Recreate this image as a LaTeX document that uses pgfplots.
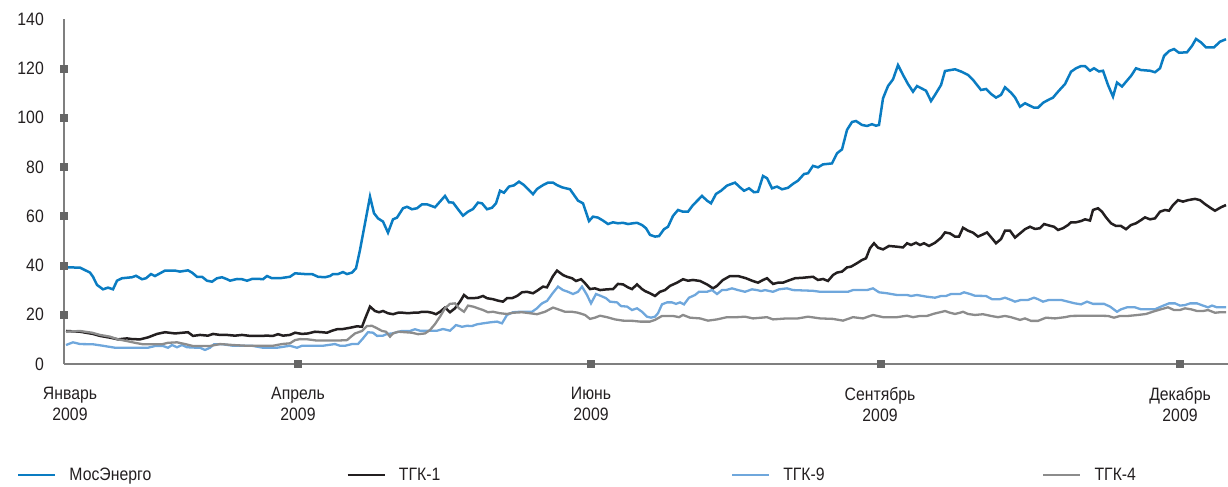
\documentclass[border=0pt]{standalone}
\usepackage{fontspec}
\setmainfont{Liberation Sans}[FakeStretch=0.88]
\usepackage{pgfplots}
\pgfplotsset{compat=1.18}

\definecolor{mos}{HTML}{0A7CC2}
\definecolor{tgkone}{HTML}{231F20}
\definecolor{tgknine}{HTML}{6FA7DC}
\definecolor{tgkfour}{HTML}{8C8C8C}
\definecolor{axisgray}{HTML}{7F7F7F}
\definecolor{tickbox}{HTML}{666666}
\definecolor{labelc}{HTML}{231F20}
\newcommand{\lbl}{\fontsize{18}{21}\selectfont}

\begin{document}
\begin{tikzpicture}
\begin{axis}[
  name=ax,
  scale only axis,
  width=1164bp, height=345bp,
  xmin=64, xmax=1228, ymin=0, ymax=140,
  axis x line=bottom, axis y line=left,
  axis line style={-, draw=axisgray, line width=1.4bp},
  major tick length=0pt,
  ytick={0,20,...,140},
  xtick={70,298,591,880,1180},
  xticklabels={{Январь\\2009},{Апрель\\2009},{Июнь\\2009},{Сентябрь\\2009},{Декабрь\\2009}},
  xticklabel style={align=center, font=\lbl, text=labelc, inner sep=0pt, anchor=north, yshift=-23bp},
  yticklabel style={font=\lbl, text=labelc, inner sep=0pt, anchor=east, xshift=-20bp},
  /pgf/number format/assume math mode=true,
  clip=false,
  legend columns=4,
  legend cell align=left,
  legend image code/.code={\draw[#1] (0bp,0bp) -- (37bp,0bp);},
  legend style={at={(axis cs:17,-42.2)}, anchor=north west, draw=none, fill=none,
    inner sep=0pt, outer sep=0pt, font=\lbl, text=labelc, nodes={inner sep=0pt},
    /tikz/every odd column/.append style={column sep=13bp},
    /tikz/every even column/.append style={column sep=0bp}},
]

% МосЭнерго
\addplot[color=mos, line width=2.5bp] table {
66 39.2
70 39.2
80 39.1
85 38.1
90 37.1
93 35.4
97 32.1
103 30.3
108 31.0
113 30.3
117 33.8
122 34.8
132 35.2
136 35.8
142 34.4
146 34.8
151 36.5
155 35.7
160 36.8
165 37.9
175 37.9
180 37.5
188 38.0
192 37.1
197 35.4
202 35.4
207 33.8
212 33.4
217 34.8
222 35.2
227 34.4
230 33.8
237 34.5
242 34.4
247 33.8
252 34.5
260 34.5
263 34.4
267 35.7
272 34.8
280 34.8
290 35.4
295 36.8
305 36.5
312 36.5
318 35.4
325 35.2
330 35.7
333 36.5
338 36.5
343 37.3
347 36.5
352 37.1
356 38.8
360 46.3
365 57.1
370 67.9
374 61.2
378 59.1
383 57.8
388 53.3
393 58.7
397 59.4
403 63.2
407 63.8
412 62.8
417 63.2
422 64.8
427 64.8
435 63.6
440 65.9
445 68.2
449 65.6
453 65.5
458 62.8
463 60.2
468 61.8
473 62.9
478 65.5
482 65.2
487 62.8
492 63.4
496 65.2
500 70.3
504 69.5
509 72.0
514 72.5
519 74.0
524 72.6
529 70.6
533 68.9
537 71.0
543 72.6
548 73.6
553 73.6
557 72.6
562 71.7
570 70.9
574 68.6
578 66.3
583 65.2
589 58.0
593 59.8
598 59.4
603 58.2
608 56.8
613 57.5
618 57.1
623 57.3
628 56.8
633 57.1
637 57.3
642 56.4
646 55.1
650 52.4
655 51.7
659 51.9
664 54.7
668 55.7
673 60.1
678 62.5
683 61.8
688 61.8
693 64.5
702 68.2
707 66.3
711 65.2
716 69.0
721 70.3
727 72.4
735 73.6
740 71.7
744 70.3
749 71.3
754 69.7
758 69.9
763 76.3
767 75.4
772 71.3
777 72.0
782 70.9
788 71.5
793 73.1
798 74.4
804 77.1
808 77.4
813 80.4
818 79.8
823 81.0
832 81.4
837 85.5
842 87.1
847 95.0
852 98.2
856 98.6
862 97.0
867 96.6
872 97.3
876 96.7
879 97.0
883 107.8
888 112.8
893 115.5
898 121.3
903 117.3
908 113.6
913 110.5
917 112.8
926 110.9
931 106.7
935 109.2
941 113.2
945 118.9
955 119.6
961 118.7
968 117.3
973 115.3
981 111.2
986 111.6
991 109.6
996 108.1
1001 109.2
1005 112.3
1011 110.1
1015 108.2
1020 104.4
1025 105.8
1030 104.8
1034 104.0
1038 104.0
1043 106.0
1048 107.1
1053 108.1
1058 110.5
1065 113.6
1071 118.6
1076 120.0
1081 120.9
1085 120.9
1090 119.0
1094 120.0
1099 118.7
1103 119.0
1108 113.2
1113 108.5
1117 114.2
1122 112.6
1127 115.0
1131 116.9
1136 120.0
1141 119.3
1150 119.0
1155 118.4
1160 120.0
1164 125.0
1169 127.0
1174 127.8
1179 126.3
1187 126.5
1192 129.1
1196 131.9
1201 130.5
1206 128.5
1214 128.5
1220 130.8
1226 131.8
};
\addlegendentry[text width=277bp]{МосЭнерго}

% ТГК-1
\addplot[color=tgkone, line width=2.5bp] table {
66 13.4
80 13.1
93 12.2
100 11.4
110 10.7
118 10.0
127 10.4
132 10.1
140 10.0
148 10.8
157 12.2
165 12.9
175 12.4
188 12.9
193 11.4
200 11.8
208 11.5
213 12.2
220 11.8
227 11.8
235 11.5
242 11.8
250 11.4
260 11.4
267 11.5
273 11.4
278 12.1
283 11.5
290 11.8
295 12.7
302 12.2
308 12.4
315 13.1
322 12.9
327 12.7
332 13.5
337 14.1
343 14.2
350 14.7
357 15.3
362 15.1
365 18.3
370 23.3
375 21.5
379 21.0
383 21.5
388 20.6
393 20.2
398 20.8
403 20.8
408 20.6
413 20.8
418 20.8
422 21.2
427 21.2
432 20.8
436 20.2
440 21.2
445 22.9
450 21.0
455 22.6
460 25.3
464 28.0
468 26.7
473 26.7
478 26.9
483 27.6
487 26.7
493 26.3
498 25.7
503 25.3
507 26.7
512 26.7
517 27.6
522 29.1
527 29.3
533 28.7
537 29.7
543 31.4
547 31.1
553 35.7
557 37.9
563 36.1
567 35.4
572 34.8
576 33.7
581 34.4
585 32.8
590 30.4
595 30.7
600 30.0
607 30.3
613 30.4
618 32.5
623 32.3
628 31.1
632 30.4
637 32.3
642 30.4
645 29.6
650 28.7
655 27.6
660 29.3
665 30.0
670 31.7
677 33.0
683 34.4
688 33.8
693 34.1
700 33.7
707 32.3
713 30.7
717 31.7
723 34.1
730 35.7
738 35.7
746 34.8
752 33.8
758 33.0
763 34.1
767 34.8
773 32.5
778 33.0
783 33.0
788 33.8
795 34.8
803 35.0
813 35.4
818 34.1
823 34.5
828 33.7
833 36.1
837 37.1
842 37.5
847 39.2
851 39.5
857 40.9
862 42.2
866 42.9
870 47.0
874 49.0
878 47.2
883 46.5
889 47.9
897 47.6
903 47.3
907 49.0
911 48.3
916 49.2
920 48.3
924 49.0
929 47.9
935 49.2
941 51.2
945 53.4
950 53.0
955 51.7
959 51.7
963 55.3
968 54.1
973 53.3
978 51.7
983 52.6
987 53.4
992 51.0
996 49.0
1001 50.7
1005 54.1
1010 54.1
1015 51.3
1020 53.0
1025 54.7
1030 55.7
1035 54.8
1040 55.1
1044 56.8
1050 56.1
1054 55.7
1058 54.4
1063 55.1
1068 56.4
1071 57.5
1076 57.5
1081 58.0
1085 58.7
1090 58.2
1093 62.5
1098 63.2
1102 61.8
1106 59.5
1111 57.1
1116 56.0
1121 56.0
1126 54.7
1131 56.4
1136 57.1
1141 58.4
1145 59.5
1150 58.7
1155 59.1
1160 61.8
1165 62.5
1169 62.2
1173 64.5
1178 66.5
1183 65.9
1188 66.5
1195 67.0
1200 66.5
1205 64.9
1211 63.2
1215 62.2
1221 63.6
1226 64.5
};
\addlegendentry[text width=332bp]{ТГК-1}

% ТГК-9
\addplot[color=tgknine, line width=2.3bp] table {
66 7.7
73 8.8
80 8.1
93 8.0
103 7.4
115 6.6
127 6.6
140 6.6
148 6.6
155 7.3
163 7.3
168 6.6
172 7.7
177 6.8
182 7.7
187 6.8
197 6.6
200 6.6
205 5.7
210 6.6
214 8.0
223 8.0
233 7.4
242 7.4
252 7.4
263 6.6
277 6.6
290 7.4
297 6.6
302 7.4
323 7.4
335 8.1
340 7.4
345 7.4
352 8.1
358 8.1
363 10.4
368 12.9
373 12.7
377 11.4
383 11.5
387 12.2
392 12.4
397 12.9
402 13.4
410 13.4
415 14.1
420 13.5
427 13.5
437 13.5
443 14.2
450 13.5
456 15.8
462 15.1
467 15.5
472 15.4
477 16.1
483 16.5
490 16.9
497 17.2
502 16.5
507 19.9
513 21.0
520 21.2
532 21.2
537 22.6
542 24.6
547 25.6
553 28.9
558 31.4
563 30.0
568 29.3
573 28.4
578 29.3
582 31.4
587 28.0
591 24.6
596 28.4
601 27.6
606 26.7
610 25.3
617 25.0
621 23.5
627 23.3
632 21.9
637 22.6
642 21.2
647 19.2
651 18.8
655 19.2
658 20.6
662 24.2
667 25.0
672 25.0
676 24.4
680 25.0
684 24.2
689 26.9
695 28.0
699 29.3
707 29.3
712 30.0
717 28.4
722 30.0
726 30.0
732 30.7
738 30.0
745 29.3
752 30.3
757 30.0
761 29.6
765 30.0
773 29.3
779 30.3
787 30.7
793 30.0
813 29.7
820 29.3
848 29.3
853 30.0
867 30.0
873 30.7
879 29.1
887 28.7
897 28.0
907 28.0
911 27.6
917 28.0
927 27.3
935 26.9
941 27.6
946 27.6
951 28.4
960 28.4
964 29.1
970 28.4
975 27.7
986 27.6
992 26.3
1000 26.3
1005 26.9
1011 26.0
1015 25.3
1021 26.0
1028 26.0
1034 26.9
1038 26.3
1043 25.3
1049 26.0
1061 26.0
1068 25.3
1075 24.6
1081 24.2
1087 25.3
1093 24.4
1104 24.4
1110 23.3
1117 21.2
1121 22.2
1127 23.0
1135 23.0
1141 22.2
1155 22.2
1161 23.3
1169 24.6
1175 24.6
1180 23.7
1185 23.9
1190 24.6
1197 24.6
1203 23.7
1208 23.0
1212 23.7
1217 23.0
1226 23.0
};
\addlegendentry[text width=259bp]{ТГК-9}

% ТГК-4
\addplot[color=tgkfour, line width=2.3bp] table {
66 13.1
80 13.4
92 12.7
100 11.8
110 11.1
118 10.0
127 9.3
135 8.6
143 8.0
153 8.0
162 8.0
168 8.6
177 8.8
185 8.1
193 7.3
210 7.3
220 8.1
233 7.7
247 7.4
260 7.4
273 7.4
282 8.1
290 8.4
295 9.7
300 10.1
308 10.0
317 9.5
327 9.5
337 9.5
347 9.7
352 11.4
355 12.4
362 13.4
367 15.4
372 15.5
377 14.5
382 13.4
386 13.1
390 11.1
393 12.4
398 13.1
405 12.9
412 12.7
418 12.1
425 12.4
430 13.8
435 16.2
440 19.2
445 22.6
450 24.4
455 24.6
459 22.6
464 21.2
468 23.7
473 23.3
478 22.6
483 21.9
488 21.0
493 21.2
500 20.6
507 20.3
513 20.8
522 21.0
530 20.6
537 20.2
545 21.2
553 22.9
558 22.2
565 21.2
572 21.2
578 20.8
585 19.9
590 18.3
595 18.8
600 19.6
607 19.0
615 18.1
623 17.6
633 17.5
640 17.2
650 17.2
655 17.9
662 19.5
673 19.5
679 19.0
683 19.9
690 18.8
700 18.5
708 17.6
717 18.1
727 19.0
737 19.0
745 19.2
753 18.5
767 19.0
773 18.1
787 18.5
798 18.5
808 19.2
820 18.5
833 18.3
843 17.6
853 19.0
863 18.5
873 19.9
883 19.0
897 19.0
907 19.6
913 19.0
920 19.5
927 19.5
933 20.3
940 21.0
945 21.5
950 20.8
955 20.3
960 20.8
963 21.2
968 20.3
975 19.9
983 20.2
991 19.5
998 19.0
1005 19.5
1011 19.0
1020 17.9
1025 18.5
1031 17.5
1038 17.5
1046 18.8
1055 18.5
1065 19.0
1071 19.5
1085 19.6
1098 19.6
1108 19.5
1114 18.8
1120 19.5
1128 19.5
1138 19.9
1146 20.3
1155 21.5
1161 22.2
1168 23.0
1174 21.9
1180 21.9
1185 22.6
1191 22.2
1197 21.5
1203 21.5
1208 21.9
1215 20.8
1220 21.0
1226 21.0
};
\addlegendentry{ТГК-4}

% square markers on the axes
\addplot[only marks, mark=square*, mark size=3.5bp, color=tickbox, forget plot] coordinates {
(64,20) (64,40) (64,60) (64,80) (64,100) (64,120)
(298,0) (591,0) (881,0) (1180,0)
};
\end{axis}
\pgfresetboundingbox
\useasboundingbox ([shift={(-64bp,-123bp)}]ax.south west) rectangle ([shift={(1164bp,364bp)}]ax.south west);
\end{tikzpicture}
\end{document}
